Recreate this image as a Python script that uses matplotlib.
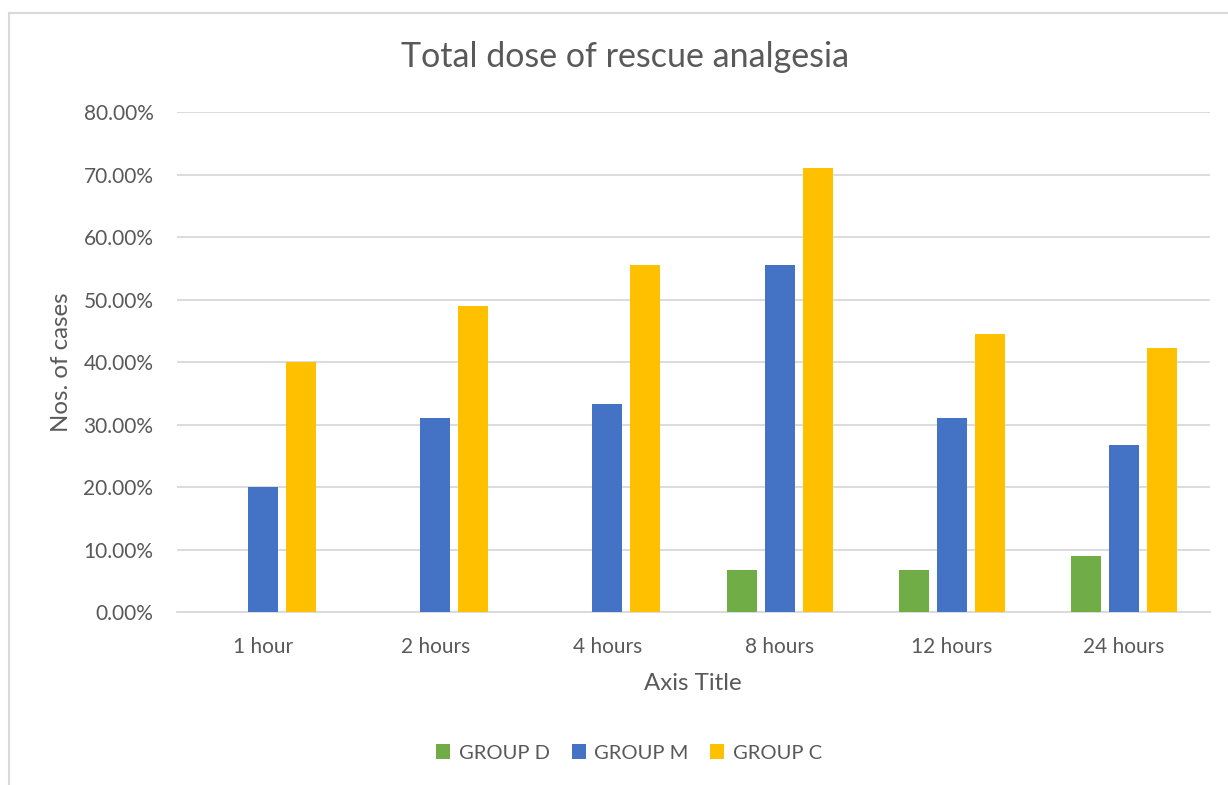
import matplotlib
matplotlib.use("Agg")
import matplotlib.pyplot as plt
import numpy as np
from matplotlib.ticker import FuncFormatter
from matplotlib.lines import Line2D

categories = ["1 hour", "2 hours", "4 hours", "8 hours", "12 hours", "24 hours"]
group_d = [0.0, 0.0, 0.0, 6.67, 6.67, 8.89]
group_m = [20.0, 31.11, 33.33, 55.56, 31.11, 26.67]
group_c = [40.0, 48.89, 55.56, 71.11, 44.44, 42.22]
series_names = ["GROUP D", "GROUP M", "GROUP C"]
colors = ["#70AD47", "#4472C4", "#FFC000"]
yticks = [0, 10, 20, 30, 40, 50, 60, 70, 80]

plt.rcParams['font.family'] = ['Lato', 'DejaVu Sans']
txt = "#595959"

fig = plt.figure(figsize=(12.28, 7.85), dpi=100)
ax = fig.add_axes([177/1228, 1-612/785, (1210-177)/1228, 500/785])

x = np.arange(len(categories))
w = 30/172
off = 38/172
for i, (vals, c, n) in enumerate(zip([group_d, group_m, group_c], colors, series_names)):
    ax.bar(x + (i-1)*off, vals, width=w, color=c, label=n, zorder=3)

ax.set_xlim(-0.5, len(categories)-0.5)
ax.set_ylim(0, 80)
ax.set_yticks(yticks)
ax.yaxis.set_major_formatter(FuncFormatter(lambda v, p: f"{v:.2f}%"))
ax.set_xticks(x)
ax.set_xticklabels(categories)
ax.grid(axis='y', color="#D9D9D9", linewidth=1.3, zorder=0)
for s in ["top", "right", "left"]:
    ax.spines[s].set_visible(False)
ax.spines["bottom"].set_color("#D9D9D9")
ax.spines["bottom"].set_linewidth(1.3)
ax.tick_params(axis='both', length=0, colors=txt, labelsize=15)
ax.tick_params(axis='y', pad=17)
ax.tick_params(axis='x', pad=18)

ax.set_ylabel("Nos. of cases", color=txt, fontsize=17.3)
ax.yaxis.set_label_coords((72-177)/(1210-177), 0.5)
fig.text(693/1228, 1-684/785, "Axis Title", color=txt, fontsize=17.3, ha='center', va='center')
fig.text(625/1228, 1-57/785, "Total dose of rescue analgesia", color=txt, fontsize=24.5, ha='center', va='center')

leg = fig.legend(loc='center', bbox_to_anchor=(629/1228, 1-753/785), ncol=3, frameon=False,
                 fontsize=14.5, handlelength=0.7, handleheight=0.7, handletextpad=0.4, columnspacing=1.1)
for t in leg.get_texts():
    t.set_color(txt)

# chart border (left and top)
fig.add_artist(Line2D([9/1228, 9/1228], [0, 1-13/785], transform=fig.transFigure, color="#D9D9D9", linewidth=1.5))
fig.add_artist(Line2D([9/1228, 1], [1-13/785, 1-13/785], transform=fig.transFigure, color="#D9D9D9", linewidth=1.5))

fig.savefig("out.png", dpi=100)
